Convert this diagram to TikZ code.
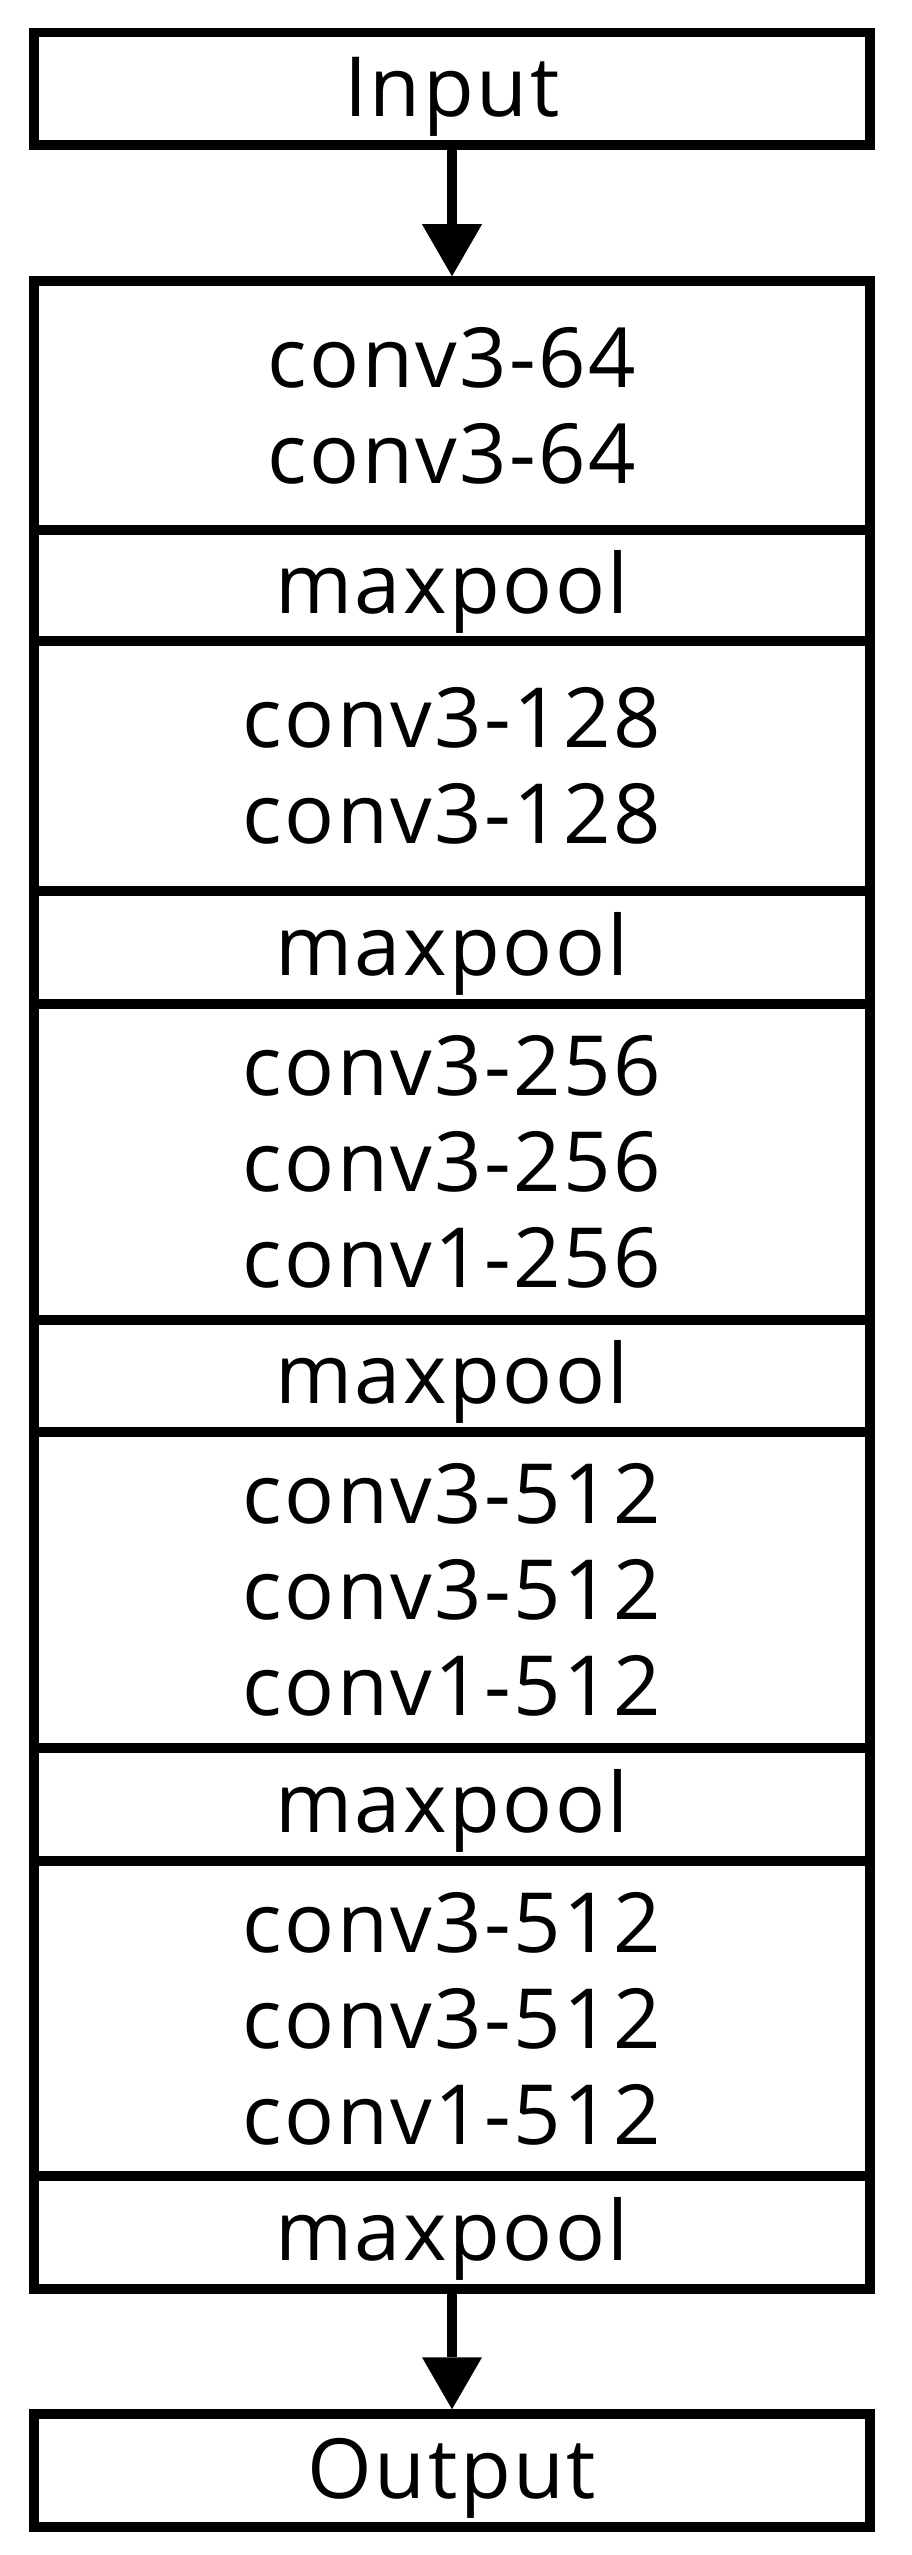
\documentclass[tikz,border=0pt]{standalone}
\usepackage{fontspec}
\newfontfamily\layerfont[LetterSpace=3]{Open Sans}
\usetikzlibrary{arrows.meta}

\tikzset{
  layer/.style={draw, line width=9.5pt, minimum width=836pt, inner sep=0pt, align=center,
    font=\layerfont\fontsize{83}{96}\selectfont},
  single/.style={layer, text height=57pt, text depth=2pt},
  flow/.style={line width=9.5pt, -{Triangle[length=52pt,width=60pt,line width=0pt]}}
}

\begin{document}
\begin{tikzpicture}[x=1pt,y=-1pt]
\useasboundingbox (0,0) rectangle (911,2555);

\node[single, minimum height=112.5pt] (input) at (452,89) {Input};

\node[layer, minimum height=249pt] (conv1) at (452,405.5) {conv3-64\\conv3-64};
\node[single, minimum height=111pt] (pool1) at (452,585.5) {maxpool};
\node[layer, minimum height=250pt] (conv2) at (452,766) {conv3-128\\conv3-128};
\node[single, minimum height=113pt] (pool2) at (452,947.5) {maxpool};
\node[layer, minimum height=316pt] (conv3) at (452,1162) {conv3-256\\conv3-256\\conv1-256};
\node[single, minimum height=112pt] (pool3) at (452,1376) {maxpool};
\node[layer, minimum height=316pt] (conv4) at (452,1590) {conv3-512\\conv3-512\\conv1-512};
\node[single, minimum height=113pt] (pool4) at (452,1804.5) {maxpool};
\node[layer, minimum height=315pt] (conv5) at (452,2018.5) {conv3-512\\conv3-512\\conv1-512};
\node[single, minimum height=113pt] (pool5) at (452,2232.5) {maxpool};

\node[single, minimum height=113pt] (output) at (452,2470.5) {Output};

\draw[flow] (input) -- (conv1);
\draw[flow] (pool5) -- (output);

\end{tikzpicture}
\end{document}
